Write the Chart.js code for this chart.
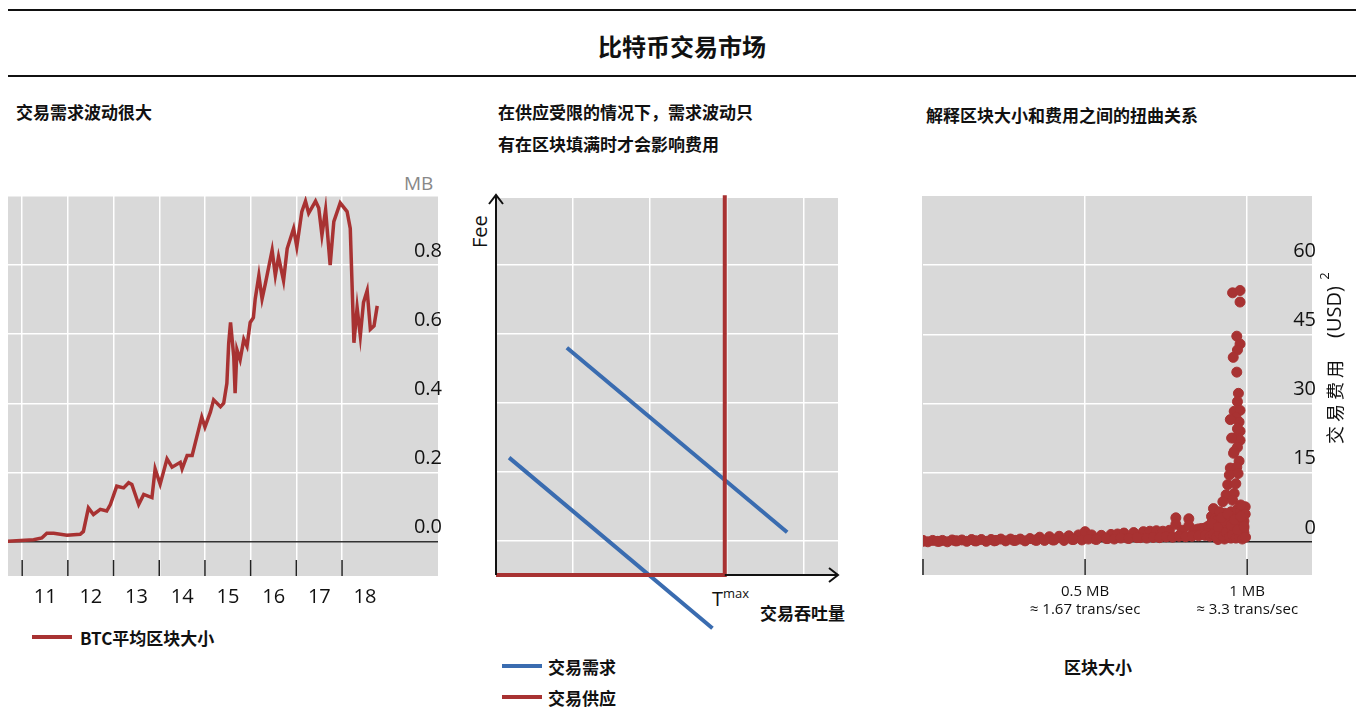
<!DOCTYPE html>
<html>
<head>
<meta charset="utf-8">
<script src="https://cdn.jsdelivr.net/npm/chart.js@4"></script>
<style>
  body { margin: 0; width: 1364px; height: 711px; background: #fff; position: relative; overflow: hidden;
         font-family: "Noto Sans CJK SC", sans-serif; color: #111; }
  canvas { position: absolute; }
  .t { position: absolute; white-space: nowrap; }
  .cn { font-family: "Noto Sans CJK SC", sans-serif; font-weight: 600; font-size: 17px; }
  .en { font-family: "Open Sans", sans-serif; font-size: 20px; }
  .rule { position: absolute; left: 8px; width: 1348px; height: 2px; background: #111; }
  .leg { position: absolute; height: 4px; width: 40px; }
</style>
</head>
<body>
<div class="rule" style="top:9px"></div>
<div class="rule" style="top:75px"></div>
<div class="t" style="left:0;width:1364px;text-align:center;top:28px;font-size:24px;font-weight:600">比特币交易市场</div>

<div class="t cn" style="left:16px;top:99px">交易需求波动很大</div>
<div class="t cn" style="left:498px;top:99px">在供应受限的情况下，需求波动只</div>
<div class="t cn" style="left:498px;top:131px">有在区块填满时才会影响费用</div>
<div class="t cn" style="left:926px;top:102px">解释区块大小和费用之间的扭曲关系</div>

<div class="t" style="left:404px;top:170px;font-family:'Open Sans';font-size:19px;color:#888">MB</div>
<div class="leg" style="left:32px;top:635px;background:#a83232"></div>
<div class="t cn" style="left:80px;top:625px">BTC平均区块大小</div>

<div class="t en" style="left:466px;top:248px;transform:rotate(-90deg);transform-origin:left top">Fee</div>
<div class="t en" style="left:736px;top:208px">S</div>
<div class="t en" style="left:521px;top:436px">D<sup style="font-size:13px">1</sup></div>
<div class="t en" style="left:582px;top:326px">D<sup style="font-size:13px">2</sup></div>
<div class="t en" style="left:712px;top:584px">T<sup style="font-size:13px">max</sup></div>
<div class="t cn" style="left:760px;top:600px">交易吞吐量</div>
<div class="leg" style="left:502px;top:664px;background:#3a6cb0"></div>
<div class="t cn" style="left:548px;top:654px">交易需求</div>
<div class="leg" style="left:502px;top:695px;background:#a83232"></div>
<div class="t cn" style="left:548px;top:685px">交易供应</div>

<div class="t cn" style="left:1064px;top:654px">区块大小</div>

<canvas id="sizeChart" width="460" height="470" style="left:0;top:150px"></canvas>
<canvas id="marketChart" width="420" height="470" style="left:470px;top:180px"></canvas>
<canvas id="feeChart" width="464" height="460" style="left:900px;top:180px"></canvas>

<script>
// --- left: average block size (MB) by year ---
const sizeYears = [2010.66, 2011.25, 2011.43, 2011.54, 2011.69, 2011.98, 2012.27, 2012.34, 2012.45, 2012.56,
  2012.71, 2012.85, 2012.93, 2013.07, 2013.22, 2013.33, 2013.40, 2013.55, 2013.66, 2013.84, 2013.91, 2014.02,
  2014.17, 2014.28, 2014.46, 2014.50, 2014.61, 2014.72, 2014.82, 2014.93, 2015.00, 2015.12, 2015.19, 2015.34,
  2015.41, 2015.48, 2015.52, 2015.56, 2015.63, 2015.66, 2015.70, 2015.77, 2015.85, 2015.92, 2015.99, 2016.06,
  2016.10, 2016.18, 2016.25, 2016.32, 2016.47, 2016.54, 2016.61, 2016.72, 2016.80, 2016.94, 2017.01, 2017.12,
  2017.20, 2017.27, 2017.42, 2017.49, 2017.56, 2017.64, 2017.74, 2017.82, 2017.96, 2018.11, 2018.18, 2018.26,
  2018.33, 2018.40, 2018.47, 2018.55, 2018.62, 2018.70, 2018.77];
const sizeMB = [0.000, 0.005, 0.010, 0.024, 0.024, 0.018, 0.021, 0.029, 0.097, 0.078,
  0.093, 0.088, 0.107, 0.160, 0.155, 0.170, 0.165, 0.107, 0.136, 0.127, 0.210, 0.166,
  0.239, 0.215, 0.229, 0.210, 0.249, 0.249, 0.302, 0.360, 0.331, 0.375, 0.410, 0.390,
  0.400, 0.458, 0.575, 0.634, 0.536, 0.429, 0.555, 0.526, 0.585, 0.565, 0.634, 0.648,
  0.702, 0.770, 0.702, 0.745, 0.843, 0.770, 0.824, 0.755, 0.848, 0.906, 0.853, 0.955,
  0.985, 0.950, 0.985, 0.965, 0.887, 0.960, 0.800, 0.926, 0.980, 0.955, 0.906, 0.575,
  0.677, 0.595, 0.692, 0.726, 0.614, 0.624, 0.682];
const yearTicks = [2011, 2012, 2013, 2014, 2015, 2016, 2017, 2018];
const sizeTicks = [0, 0.2, 0.4, 0.6, 0.8, 1.0];

// --- middle: supply / demand sketch ---
const demand1 = [{ x: 0.17, y: 1.70 }, { x: 2.81, y: -0.77 }];
const demand2 = [{ x: 0.92, y: 3.29 }, { x: 3.78, y: 0.62 }];
const supply = [{ x: 0, y: 0 }, { x: 2.97, y: 0 }, { x: 2.97, y: 5.5 }];
const marketXTicks = [1, 2, 3, 4];
const marketYTicks = [0.5, 1.5, 2.5, 3.5, 4.5];

// --- right: fee vs block size ---
const feeSize = [0.00, 0.03, 0.06, 0.09, 0.12, 0.15, 0.18, 0.21, 0.24, 0.27, 0.30, 0.33, 0.36, 0.39, 0.42,
  0.45, 0.48, 0.50, 0.52, 0.55, 0.58, 0.60, 0.62, 0.65, 0.68, 0.70, 0.72, 0.74, 0.76, 0.78, 0.78, 0.80, 0.82,
  0.82, 0.84, 0.85, 0.86, 0.87, 0.88, 0.89, 0.90, 0.91, 0.92, 0.93, 0.94, 0.95, 0.96, 0.97, 0.98, 0.99,
  0.00, 0.05, 0.10, 0.16, 0.22, 0.28, 0.35, 0.40, 0.46, 0.53, 0.57, 0.63, 0.67, 0.71, 0.75, 0.79, 0.83, 0.86,
  0.88, 0.90, 0.92, 0.93, 0.94, 0.95, 0.96, 0.97, 0.98, 0.99, 0.99, 0.97, 0.96, 0.95, 0.93, 0.91,
  0.955, 0.978, 0.978, 0.968, 0.978, 0.970, 0.957, 0.968, 0.973, 0.970, 0.960, 0.978, 0.965, 0.975, 0.948,
  0.978, 0.970, 0.960, 0.978, 0.952, 0.970, 0.960, 0.958, 0.975, 0.948, 0.968, 0.945, 0.972, 0.940, 0.965,
  0.935, 0.960, 0.925, 0.955, 0.896, 0.994, 0.994, 0.985, 0.915, 0.905, 0.980, 0.990, 0.950, 0.930,
  0.015, 0.045, 0.075, 0.105, 0.135, 0.165, 0.195, 0.225, 0.255, 0.285, 0.315, 0.345, 0.375, 0.405, 0.435,
  0.465, 0.49, 0.51, 0.535, 0.565, 0.59, 0.61, 0.635, 0.66, 0.69, 0.71, 0.73, 0.75, 0.77, 0.79, 0.81,
  0.83, 0.85, 0.87, 0.885, 0.895, 0.905, 0.915, 0.925, 0.935, 0.945, 0.955, 0.965, 0.975, 0.985, 0.995,
  0.89, 0.91, 0.93, 0.95, 0.97, 0.99, 0.92, 0.94, 0.96, 0.98];
const feeUSD = [0.3, 0.3, 0.3, 0.4, 0.4, 0.5, 0.5, 0.5, 0.6, 0.6, 0.6, 0.7, 1.0, 1.1, 1.2,
  1.3, 1.5, 2.2, 1.5, 1.4, 1.6, 1.7, 1.9, 2.0, 2.2, 2.3, 2.4, 2.3, 2.5, 5.2, 3.8, 2.5, 5.0,
  3.5, 2.6, 2.8, 2.9, 3.0, 3.4, 5.5, 5.0, 4.8, 5.8, 6.2, 5.6, 6.5, 6.2, 7.0, 6.8, 6.0,
  0.1, 0.1, 0.2, 0.2, 0.2, 0.3, 0.3, 0.4, 0.5, 0.6, 0.7, 0.8, 0.9, 1.0, 1.1, 1.3, 1.5, 1.7,
  1.8, 2.0, 2.2, 2.5, 2.8, 3.0, 3.4, 3.8, 4.0, 4.5, 2.0, 1.5, 1.0, 0.8, 0.6, 0.5,
  54.0, 54.5, 52.0, 44.6, 42.9, 41.6, 40.0, 36.8, 32.2, 30.4, 28.3, 28.5, 27.0, 26.0, 26.5,
  24.0, 24.5, 22.5, 22.0, 22.5, 20.5, 19.6, 19.2, 17.5, 16.0, 16.2, 14.5, 14.8, 12.4, 12.6,
  10.2, 10.5, 8.7, 9.0, 7.2, 7.6, 6.0, 4.0, 6.5, 4.5, 8.0, 3.0, 3.0, 4.2,
  0.0, 0.1, 0.0, 0.2, 0.1, 0.2, 0.1, 0.3, 0.2, 0.3, 0.2, 0.4, 0.3, 0.4, 0.3,
  0.5, 0.4, 0.6, 0.5, 0.7, 0.6, 0.8, 0.7, 0.9, 0.8, 1.0, 0.9, 1.1, 1.0, 1.2, 1.1,
  1.2, 1.3, 1.4, 1.2, 1.6, 1.0, 1.8, 1.2, 2.0, 1.0, 1.5, 0.8, 1.2, 0.6, 1.0,
  4.0, 3.2, 4.6, 3.6, 2.6, 3.4, 5.2, 6.0, 4.8, 5.5];
const feeTicks = [0, 15, 30, 45, 60];
const feeXTicks = [0, 0.5, 1];
const feeXLabels = { 0.5: ["0.5 MB", "≈ 1.67 trans/sec"], 1: ["1 MB", "≈ 3.3 trans/sec"] };

const RED = "#a83232";
const BLUE = "#3a6cb0";
const GREY = "#d9d9d9";
const tickFont = { family: "Open Sans", size: 20 };

const greyBg = {
  id: "greyBg",
  beforeDraw(chart) {
    const a = chart.chartArea, c = chart.ctx;
    c.save();
    c.fillStyle = GREY;
    c.fillRect(a.left, a.top, a.right - a.left, a.bottom - a.top);
    c.restore();
  },
};

function bottomTicks(values, len) {
  return {
    id: "bottomTicks",
    afterDatasetsDraw(chart) {
      const c = chart.ctx, xs = chart.scales.x, b = chart.chartArea.bottom;
      c.save();
      c.strokeStyle = "#222";
      c.lineWidth = 1.5;
      values.forEach((v) => {
        const x = xs.getPixelForValue(v);
        c.beginPath();
        c.moveTo(x, b - len);
        c.lineTo(x, b);
        c.stroke();
      });
      c.restore();
    },
  };
}

function fixedTicks(list) {
  return (scale) => { scale.ticks = list.map((v) => ({ value: v })); };
}

new Chart(document.getElementById("sizeChart"), {
  type: "line",
  data: {
    datasets: [{
      data: sizeYears.map((x, i) => ({ x: x, y: sizeMB[i] })),
      borderColor: RED,
      borderWidth: 3.5,
      pointRadius: 0,
      tension: 0,
    }],
  },
  options: {
    responsive: false,
    animation: false,
    layout: { padding: { left: 8, top: 46, right: 14, bottom: 2 } },
    plugins: { legend: { display: false }, tooltip: { enabled: false } },
    scales: {
      x: {
        type: "linear",
        min: 2010.69,
        max: 2020.1,
        afterBuildTicks: fixedTicks(yearTicks),
        grid: { color: "#fff", lineWidth: 1.5, drawTicks: false },
        border: { display: false },
        ticks: {
          font: tickFont, color: "#111", padding: 9, labelOffset: 23, maxRotation: 0,
          callback: (v) => String(v).slice(2),
        },
      },
      y: {
        position: "right",
        min: -0.1,
        max: 1.0,
        afterBuildTicks: fixedTicks(sizeTicks),
        grid: {
          drawTicks: false,
          lineWidth: 1.5,
          color: (ctx) => (ctx.tick && ctx.tick.value === 0 ? "#333" : "#fff"),
        },
        border: { display: false },
        ticks: {
          mirror: true, font: tickFont, color: "#111", padding: 4, labelOffset: -14,
          callback: (v) => (v >= 1 ? "" : v.toFixed(1)),
        },
      },
    },
  },
  plugins: [greyBg, bottomTicks(yearTicks, 16)],
});

const axesArrows = {
  id: "axesArrows",
  afterDatasetsDraw(chart) {
    const c = chart.ctx, a = chart.chartArea;
    c.save();
    c.strokeStyle = "#111";
    c.lineWidth = 2;
    c.beginPath();
    c.moveTo(a.left, a.bottom); c.lineTo(a.left, a.top - 3);
    c.moveTo(a.left - 7, a.top + 6); c.lineTo(a.left, a.top - 3); c.lineTo(a.left + 7, a.top + 6);
    c.moveTo(chart.scales.x.getPixelForValue(2.97), a.bottom); c.lineTo(a.right, a.bottom);
    c.moveTo(a.right - 9, a.bottom - 7); c.lineTo(a.right, a.bottom); c.lineTo(a.right - 9, a.bottom + 7);
    c.stroke();
    c.restore();
  },
};

new Chart(document.getElementById("marketChart"), {
  type: "line",
  data: {
    datasets: [
      { data: supply, borderColor: RED, borderWidth: 4, pointRadius: 0, clip: false },
      { data: demand1, borderColor: BLUE, borderWidth: 4, pointRadius: 0, clip: false },
      { data: demand2, borderColor: BLUE, borderWidth: 4, pointRadius: 0, clip: false },
    ],
  },
  options: {
    responsive: false,
    animation: false,
    layout: { padding: { left: 26, top: 18, right: 52, bottom: 75 } },
    plugins: { legend: { display: false }, tooltip: { enabled: false } },
    scales: {
      x: {
        type: "linear", min: 0, max: 4.44,
        afterBuildTicks: fixedTicks(marketXTicks),
        grid: { color: "#fff", lineWidth: 1.5, drawTicks: false },
        border: { display: false },
        ticks: { display: false },
      },
      y: {
        type: "linear", min: 0, max: 5.46,
        afterBuildTicks: fixedTicks(marketYTicks),
        grid: { color: "#fff", lineWidth: 1.5, drawTicks: false },
        border: { display: false },
        ticks: { display: false },
      },
    },
  },
  plugins: [greyBg, axesArrows],
});

const feeTitle = {
  id: "feeTitle",
  afterDraw(chart) {
    const c = chart.ctx;
    c.save();
    c.translate(435, 180);
    c.rotate(-Math.PI / 2);
    c.fillStyle = "#111";
    c.textAlign = "center";
    c.textBaseline = "middle";
    c.font = "18px 'Noto Sans CJK SC'";
    c.fillText("交 易 费 用", -42, 0);
    c.font = "20px 'Open Sans'";
    c.fillText("(USD)", 48, 0);
    c.font = "13px 'Open Sans'";
    c.fillText("2", 84, -10);
    c.restore();
  },
};

new Chart(document.getElementById("feeChart"), {
  type: "scatter",
  data: {
    datasets: [{
      data: feeSize.map((x, i) => ({ x: x, y: feeUSD[i] })),
      backgroundColor: RED,
      borderColor: RED,
      pointRadius: 5,
    }],
  },
  options: {
    responsive: false,
    animation: false,
    layout: { padding: { left: 23, top: 15, right: 44, bottom: 13 } },
    plugins: { legend: { display: false }, tooltip: { enabled: false } },
    scales: {
      x: {
        type: "linear", min: 0, max: 1.2,
        afterBuildTicks: fixedTicks(feeXTicks),
        grid: { color: (ctx) => (ctx.tick && ctx.tick.value === 0 ? GREY : "#fff"), lineWidth: 1.5, drawTicks: false },
        border: { display: false },
        ticks: {
          font: { family: "Open Sans", size: 15 }, color: "#111", padding: 8, maxRotation: 0,
          callback: (v) => feeXLabels[v] || "",
        },
      },
      y: {
        position: "right",
        min: -7.2, max: 75,
        afterBuildTicks: fixedTicks(feeTicks),
        grid: {
          drawTicks: false, lineWidth: 1.5,
          color: (ctx) => (ctx.tick && ctx.tick.value === 0 ? "#222" : "#fff"),
        },
        border: { display: false },
        ticks: { mirror: true, font: tickFont, color: "#111", padding: 4, labelOffset: -14 },
      },
    },
  },
  plugins: [greyBg, bottomTicks(feeXTicks, 16), feeTitle],
});
</script>
</body>
</html>
